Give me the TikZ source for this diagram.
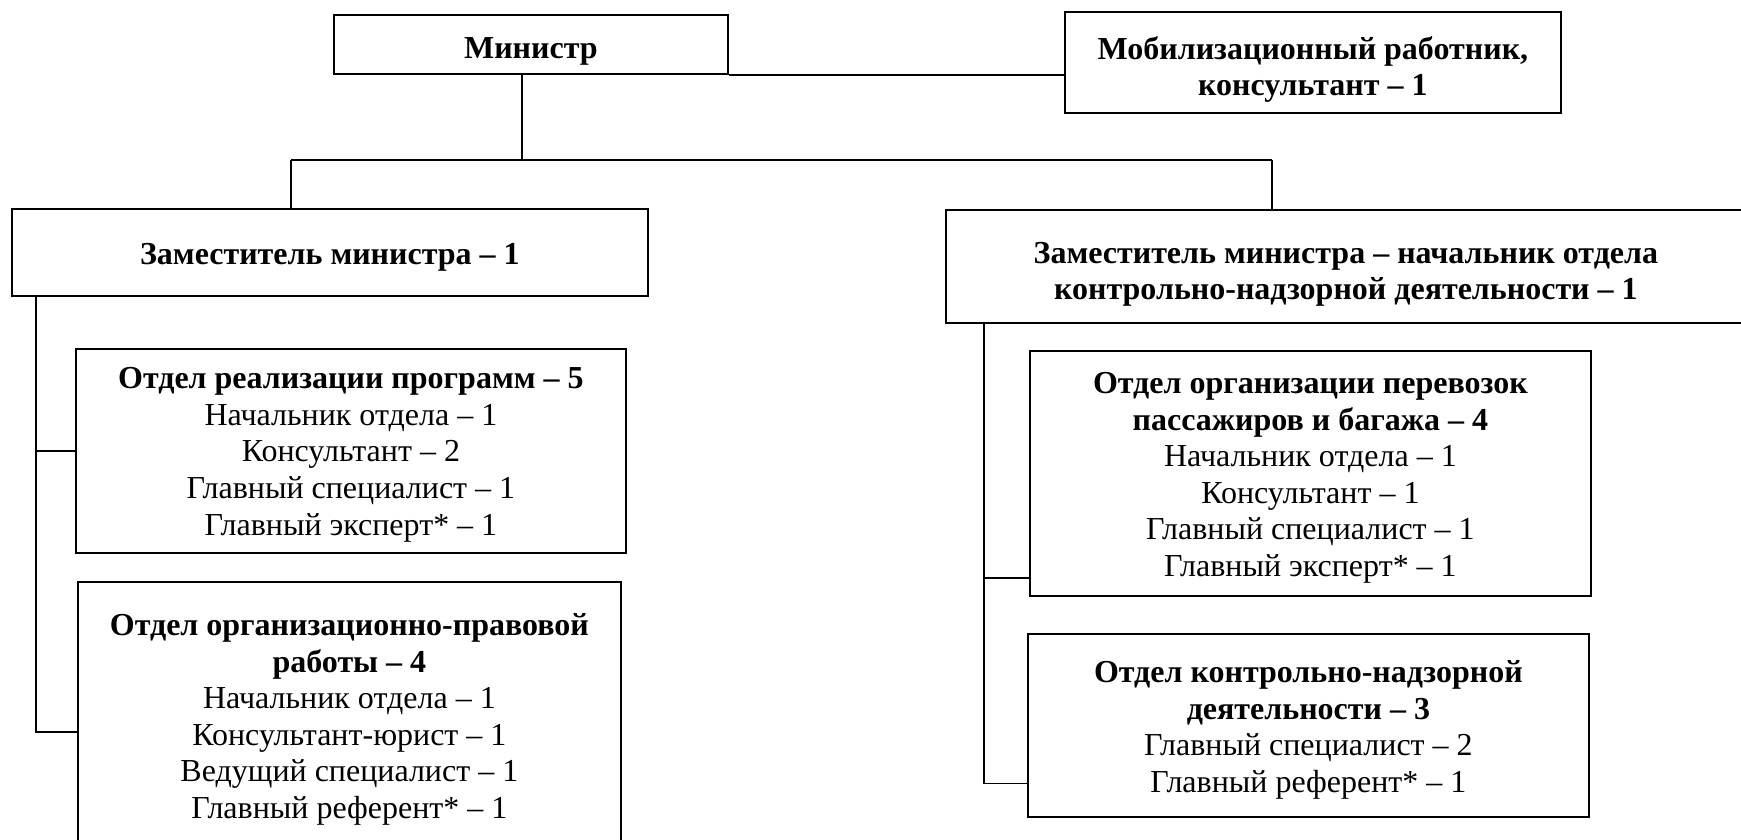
\documentclass[tikz,border=0pt]{standalone}
\usepackage{fontspec}
\setmainfont{Liberation Serif}
% pushes the first line of a box down
\newcommand{\lift}[1]{\rule{0pt}{#1pt}}

\begin{document}
\begin{tikzpicture}[x=1pt, y=-1pt, unit/.style={
		% The shape:
		rectangle, anchor=north west,
		% The border
		draw=black, line width=1.8pt,
		% The text
		align=center, inner sep=0pt,
		font=\fontsize{32}{36.6}\selectfont},
	link/.style={line width=2pt},
	thinlink/.style={line width=1.3pt}]
    \useasboundingbox (0,0) rectangle (1741,840);

    \node [unit, minimum width=394pt, minimum height=59pt] (minister) at (333,14) {\lift{35}\textbf{Министр}};
    \node [unit, minimum width=496pt, minimum height=101pt] (mob) at (1064,11)
      {\lift{37}\textbf{Мобилизационный работник,}\\ \textbf{консультант – 1}};
    \node [unit, minimum width=636pt, minimum height=87pt] (deputy) at (11,208)
      {\lift{32}\textbf{Заместитель министра – 1}};
    \node [unit, minimum width=800pt, minimum height=113pt] (chief) at (945,209)
      {\lift{37}\textbf{Заместитель министра – начальник отдела}\\ \textbf{контрольно-надзорной деятельности – 1}};

    \node [unit, minimum width=550pt, minimum height=204pt] (programs) at (75,348)
      {\lift{29}\textbf{Отдел реализации программ – 5}\\ Начальник отдела – 1\\ Консультант – 2\\
       Главный специалист – 1\\ Главный эксперт* – 1};
    \node [unit, minimum width=543pt, minimum height=266pt] (legal) at (77,581)
      {\lift{31}\textbf{Отдел организационно-правовой}\\ \textbf{работы – 4}\\ Начальник отдела – 1\\
       Консультант-юрист – 1\\ Ведущий специалист – 1\\ Главный референт* – 1};
    \node [unit, minimum width=561pt, minimum height=245pt] (transport) at (1029,350)
      {\lift{30}\textbf{Отдел организации перевозок}\\ \textbf{пассажиров и багажа – 4}\\ Начальник отдела – 1\\
       Консультант – 1\\ Главный специалист – 1\\ Главный эксперт* – 1};
    \node [unit, minimum width=561pt, minimum height=183pt] (control) at (1027,633)
      {\lift{31}\textbf{Отдел контрольно-надзорной}\\ \textbf{деятельности – 3}\\ Главный специалист – 2\\
       Главный референт* – 1};

    \coordinate (busL) at (291,160);
    \coordinate (busR) at (1272,160);
    \coordinate (trunkL) at ([xshift=25pt]deputy.south west);
    \coordinate (trunkR) at ([xshift=39pt]chief.south west);

    \draw [link] (minister.south east) -- (minister.south east -| mob.west);
    \draw [thinlink] ([xshift=-9pt]minister.south) -- ([xshift=-9pt]minister.south |- busL);
    \draw [link] (busL) -- (busR);
    \draw [link] (busL) -- (busL |- deputy.north);
    \draw [link] (busR) -- (busR |- chief.north);

    \draw [link] (trunkL) |- ([yshift=-17pt]legal.west);
    \draw [link] (programs.west) -- (programs.west -| trunkL);

    \draw [thinlink] (trunkR) |- ([yshift=-58pt]control.west);
    \draw [link] ([yshift=-105pt]transport.west) -- ([yshift=-105pt]transport.west -| trunkR);

    \end{tikzpicture}
\end{document}
